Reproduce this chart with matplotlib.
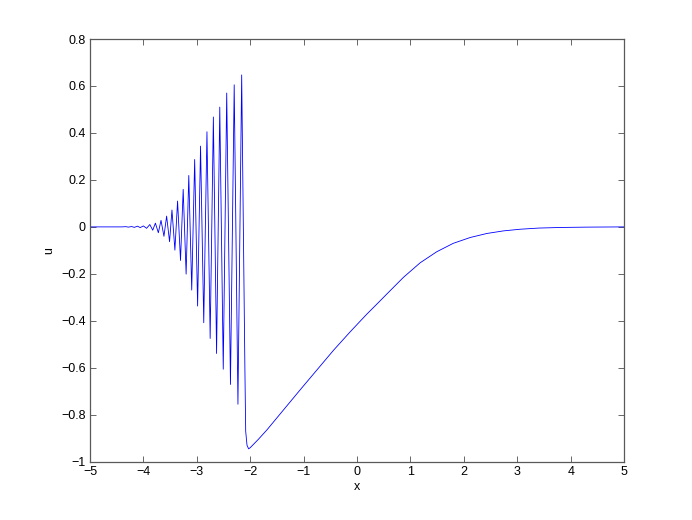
import numpy as np
import matplotlib
matplotlib.use('Agg')
import matplotlib.pyplot as plt

plt.rcParams['font.family'] = ['Liberation Sans', 'DejaVu Sans']

# Extrema and sample points
x_tail = [-5.0, -4.6, -4.4, -4.33, -4.28, -4.22, -4.17, -4.11, -4.06, -4.00, -3.94]
u_tail = [0.0, 0.0, 0.0, 0.001, -0.001, 0.0015, -0.002, 0.003, -0.003, 0.004, -0.006]

x_osc = [-3.88, -3.825, -3.775, -3.72, -3.67, -3.615, -3.565, -3.51, -3.465, -3.41,
         -3.36, -3.305, -3.255, -3.20, -3.15, -3.095, -3.04, -2.985, -2.93, -2.87,
         -2.81, -2.75, -2.69, -2.63, -2.57, -2.505, -2.44, -2.37, -2.30, -2.23, -2.16]
u_osc = [0.010, -0.014, 0.016, -0.025, 0.028, -0.040, 0.046, -0.063, 0.072, -0.099,
         0.110, -0.143, 0.160, -0.201, 0.219, -0.269, 0.287, -0.337, 0.344, -0.408,
         0.405, -0.475, 0.468, -0.539, 0.510, -0.606, 0.570, -0.671, 0.605, -0.755, 0.647]

x_smooth = [-2.10, -2.085, -2.06, -2.03, -2.0, -1.85, -1.69, -1.38, -1.07, -0.755, -0.44,
            -0.13, 0.18, 0.40, 0.556, 0.867, 1.18, 1.49, 1.80, 2.12, 2.43, 2.74, 3.05,
            3.4, 3.8, 4.3, 5.0]
u_smooth = [-0.60, -0.87, -0.93, -0.945, -0.94, -0.905, -0.865, -0.780, -0.695, -0.610, -0.525,
            -0.447, -0.372, -0.322, -0.286, -0.215, -0.153, -0.106, -0.070, -0.045, -0.028,
            -0.017, -0.010, -0.005, -0.0025, -0.001, 0.0]

x = np.array(x_tail + x_osc + x_smooth)
u = np.array(u_tail + u_osc + u_smooth)

fig = plt.figure(figsize=(6.92, 5.2), dpi=100)
ax = fig.add_axes([0.13, 0.112, 0.772, 0.813])
ax.plot(x, u, color='#0000ff', linewidth=0.6)

ax.set_xlim(-5, 5)
ax.set_ylim(-1, 0.8)
ax.set_xticks(np.arange(-5, 6, 1))
ax.set_yticks(np.round(np.arange(-1, 0.81, 0.2), 1))
ax.set_yticklabels(['\u22121', '\u22120.8', '\u22120.6', '\u22120.4', '\u22120.2',
                    '0', '0.2', '0.4', '0.6', '0.8'])
ax.tick_params(direction='in', top=True, right=True, labelsize=9,
               length=4, width=0.6, color='0.3', pad=3)
for s in ax.spines.values():
    s.set_color('0.35')
    s.set_linewidth(0.9)

ax.set_xlabel('x', fontsize=9, labelpad=2)
ax.set_ylabel('u', fontsize=9, labelpad=4)

fig.savefig('out.png', dpi=100)
